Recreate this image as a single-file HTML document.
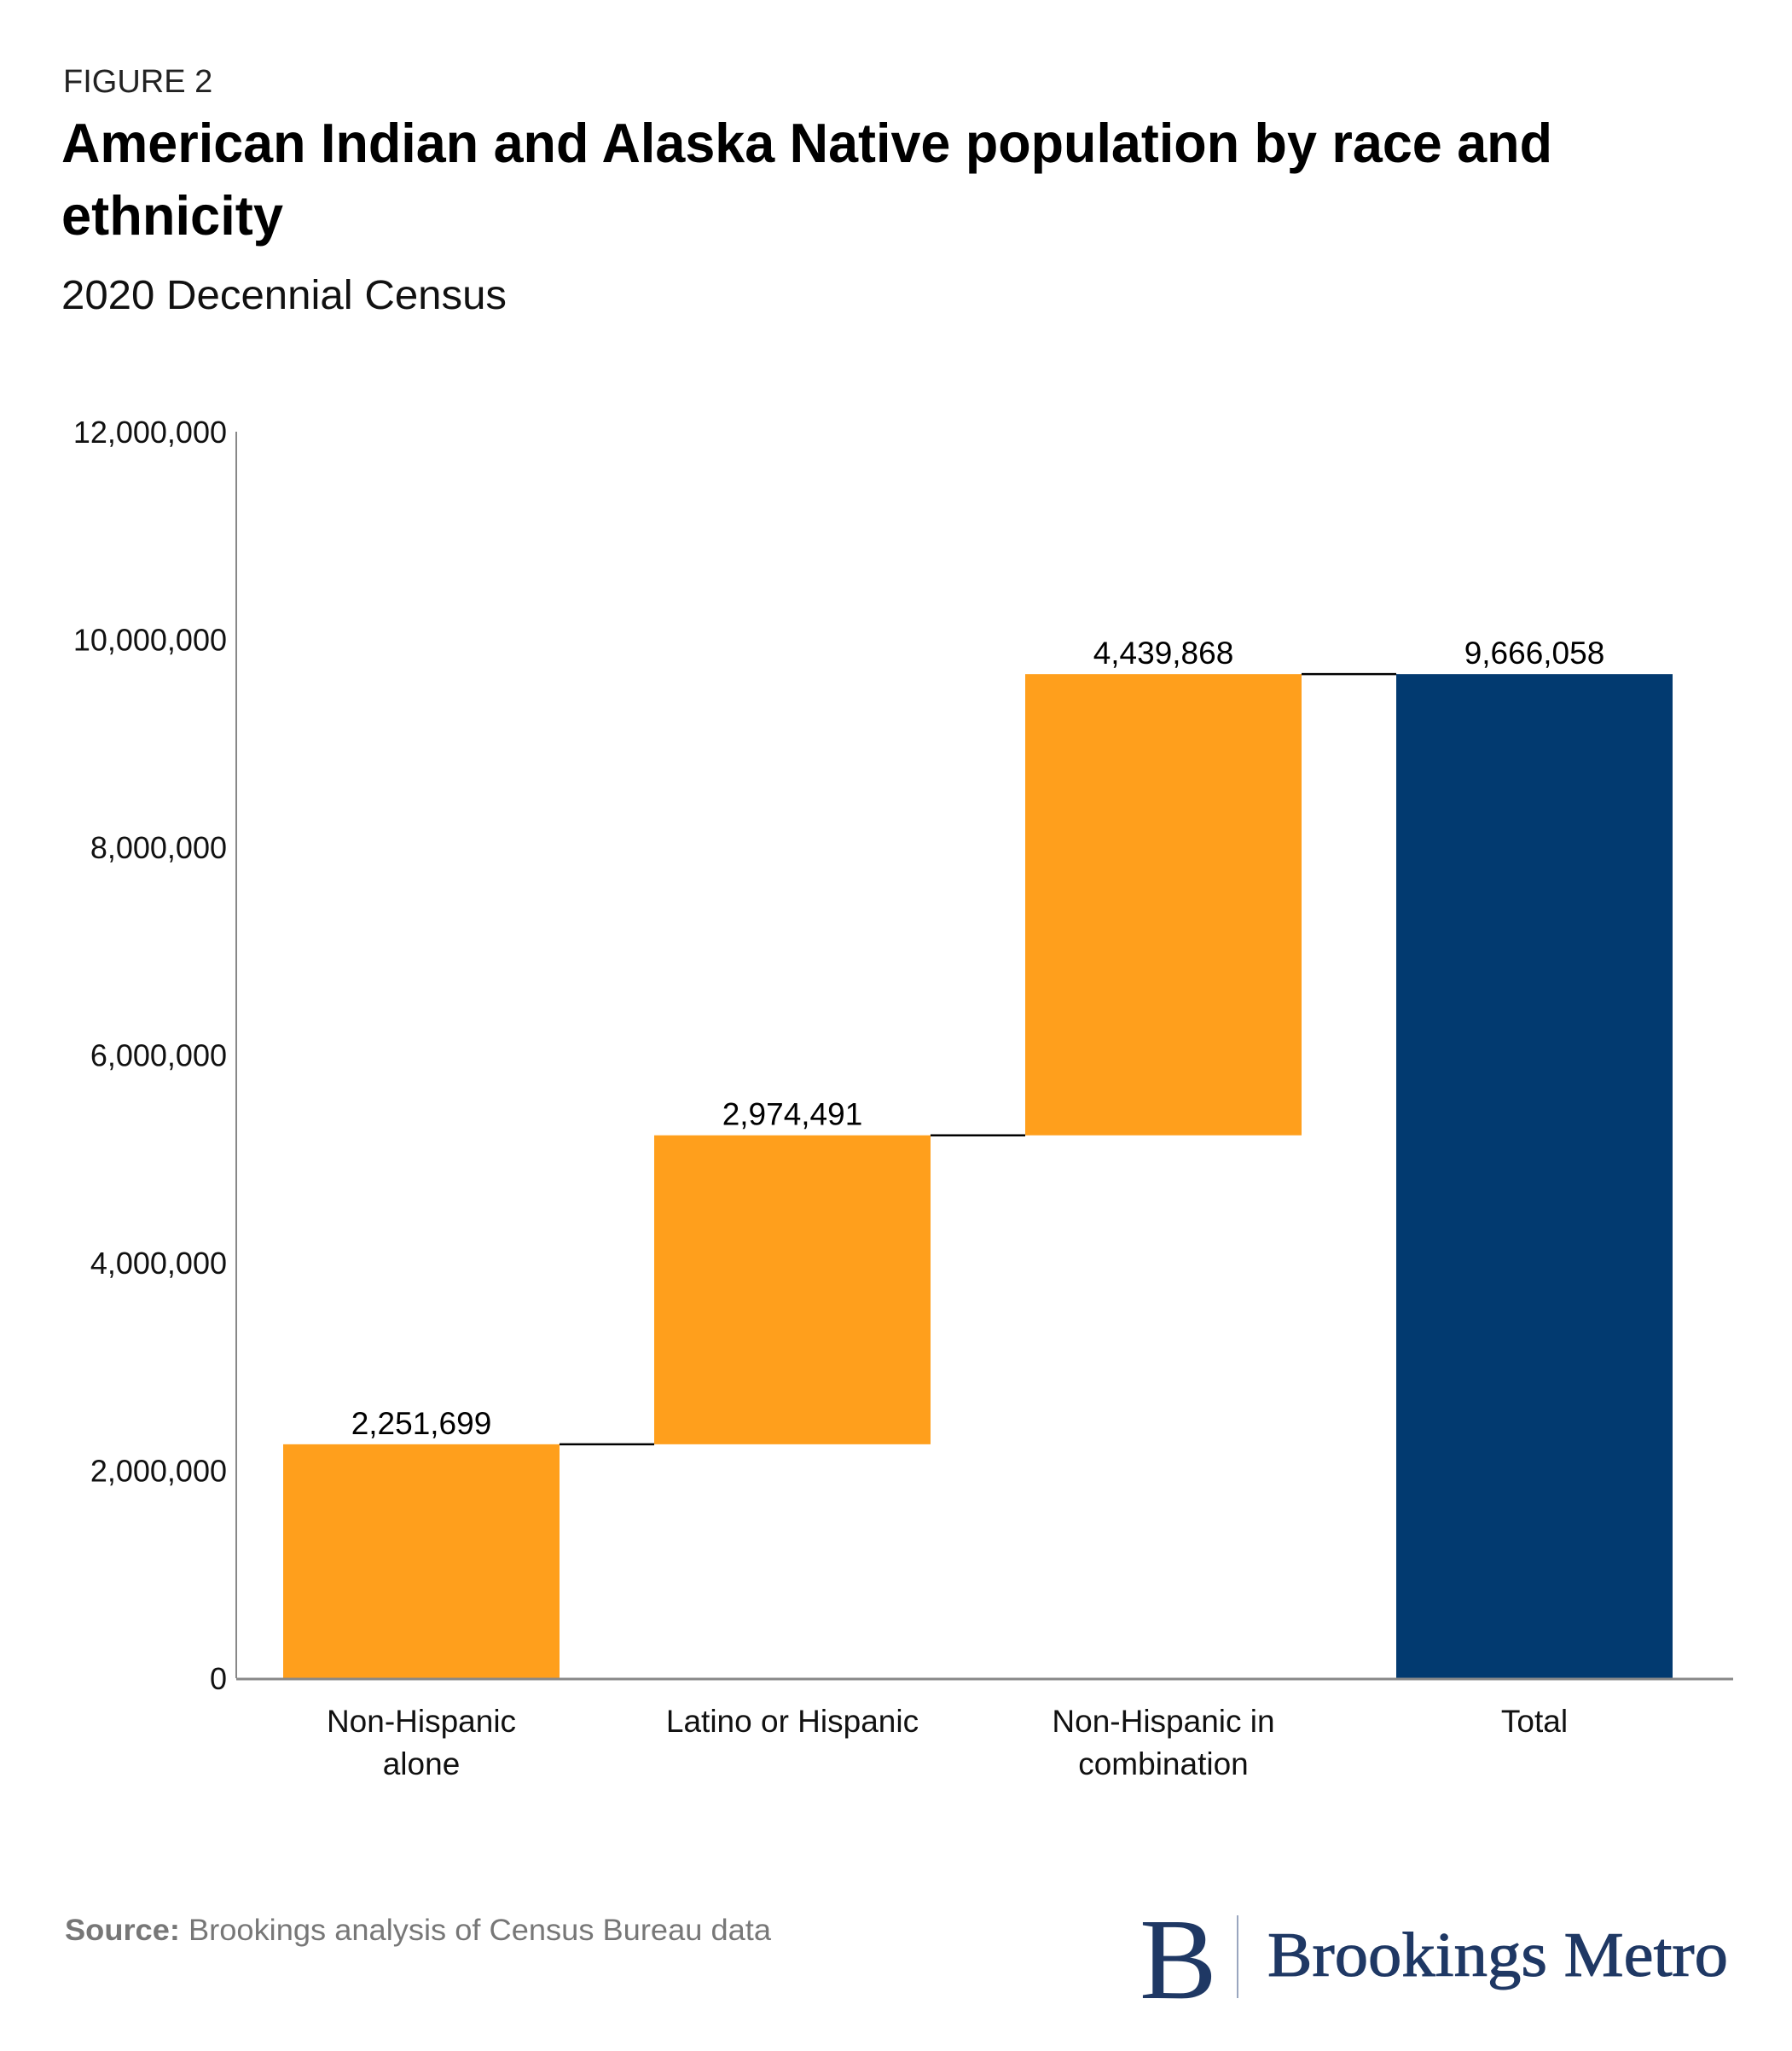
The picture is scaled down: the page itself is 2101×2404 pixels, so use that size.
<!DOCTYPE html>
<html><head><meta charset="utf-8"><style>
html,body{margin:0;padding:0;background:#fff;}
body{width:2101px;height:2404px;position:relative;overflow:hidden;font-family:"Liberation Sans",sans-serif;}
svg{position:absolute;left:0;top:0;}
</style></head><body>
<svg id="chart" width="2101" height="2404" viewBox="0 0 2101 2404">
<text x="74" y="108" font-size="38" fill="#222">FIGURE 2</text>
<text x="72" y="190" font-size="65" font-weight="bold" fill="#000" textLength="1748" lengthAdjust="spacingAndGlyphs">American Indian and Alaska Native population by race and</text>
<text x="72" y="275" font-size="65" font-weight="bold" fill="#000" textLength="260" lengthAdjust="spacingAndGlyphs">ethnicity</text>
<text x="72" y="362" font-size="48" fill="#111" textLength="522" lengthAdjust="spacingAndGlyphs">2020 Decennial Census</text>
<g id="yaxis"></g>
<g id="bars"></g>
<g id="xaxis"></g>
<text x="76" y="2274" font-size="35" fill="#777" textLength="828" lengthAdjust="spacingAndGlyphs"><tspan font-weight="bold">Source:</tspan> Brookings analysis of Census Bureau data</text>
<text x="1336" y="2342" font-size="136" font-family="Liberation Serif, serif" fill="#1f3864">B</text>
<line x1="1451" y1="2245" x2="1451" y2="2342" stroke="#9aa6bf" stroke-width="2"/>
<text x="1486" y="2316" font-size="74" font-family="Liberation Serif, serif" fill="#1f3864" stroke="#1f3864" stroke-width="1" textLength="540" lengthAdjust="spacingAndGlyphs">Brookings Metro</text>
</svg>
<script>
const categories = [["Non-Hispanic","alone"],["Latino or Hispanic"],["Non-Hispanic in","combination"],["Total"]];
const values = [2251699, 2974491, 4439868, 9666058];
const isTotal = [false, false, false, true];
const tickValues = [0, 2000000, 4000000, 6000000, 8000000, 10000000, 12000000];
const tickLabels = ["0","2,000,000","4,000,000","6,000,000","8,000,000","10,000,000","12,000,000"];
const NS = "http://www.w3.org/2000/svg";
const plot = {left:277, right:2032, top:506, bottom:1967, bandStart:276.5, band:435, barW:324};
const yMax = 12000000;
function y(v){ return plot.bottom - v/yMax*(plot.bottom-plot.top); }
function xc(i){ return plot.bandStart + plot.band*(i+0.5); }
function mk(tag, attrs, parent){ const e=document.createElementNS(NS,tag); for(const k in attrs) e.setAttribute(k,attrs[k]); parent.appendChild(e); return e; }
const yg=document.getElementById('yaxis'), bg=document.getElementById('bars'), xg=document.getElementById('xaxis');
tickValues.forEach((v,i)=>{
  const t=mk('text',{x:266,y:y(v)+13,'font-size':36,'text-anchor':'end',fill:'#111'},yg);
  
  
  t.textContent=tickLabels[i];
});
const yl=mk('line',{x1:plot.left,y1:plot.top,x2:plot.left,y2:plot.bottom,stroke:'#888','stroke-width':2},yg);


let run=0; const tops=[];
values.forEach((v,i)=>{
  let lo, hi;
  if(isTotal[i]){ lo=0; hi=v; } else { lo=run; hi=run+v; run=hi; }
  tops.push(hi);
  const r=mk('rect',{x:xc(i)-plot.barW/2,y:y(hi),width:plot.barW,height:y(lo)-y(hi),fill:isTotal[i]?'#023a70':'#ff9f1c'},bg);
  
  
  const t=mk('text',{x:xc(i),y:y(hi)-12,'font-size':37,'text-anchor':'middle',fill:'#000'},bg);
  
  
  t.textContent=v.toLocaleString('en-US');
});
for(let i=0;i<values.length-1;i++){
  const c=mk('line',{x1:xc(i)+plot.barW/2,y1:y(tops[i]),x2:xc(i+1)-plot.barW/2,y2:y(tops[i]),stroke:'#000','stroke-width':2.5},bg);
  
  
}
const xl=mk('line',{x1:plot.left,y1:plot.bottom+1,x2:plot.right,y2:plot.bottom+1,stroke:'#888','stroke-width':3},xg);


categories.forEach((lines,i)=>{
  lines.forEach((s,j)=>{
    const t=mk('text',{x:xc(i),y:2030+j*50,'font-size':37,'text-anchor':'middle',fill:'#111'},xg);
    
    
    t.textContent=s;
  });
});
</script>
</body></html>
